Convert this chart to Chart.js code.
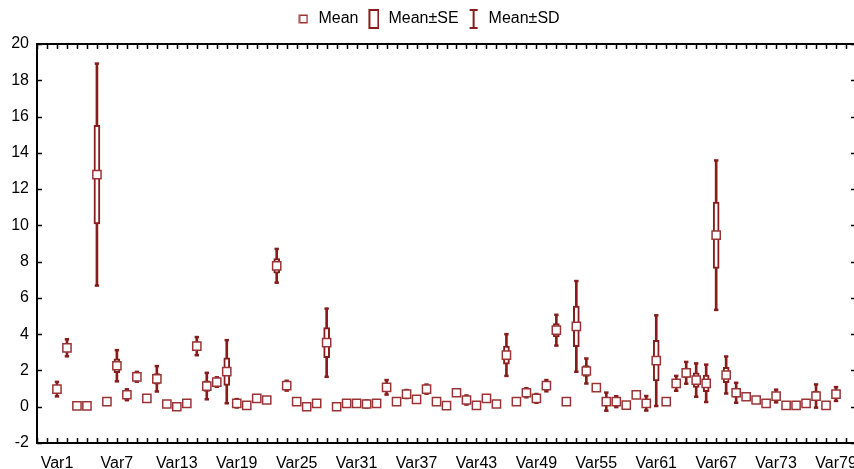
<!DOCTYPE html>
<html>
<head>
<meta charset="utf-8">
<script src="https://cdn.jsdelivr.net/npm/chart.js@4.4.1/dist/chart.umd.min.js"></script>
<style>
html,body{margin:0;padding:0;background:#fff;overflow:hidden;width:854px;height:469px}
#wrap{position:relative;width:856px;height:469px}
canvas{display:block}
</style>
</head>
<body>
<div id="wrap"><canvas id="c" width="856" height="469"></canvas></div>
<script>
// ---- data ----
const categories = [
 "Var1","Var2","Var3","Var4","Var5","Var6","Var7","Var8","Var9","Var10",
 "Var11","Var12","Var13","Var14","Var15","Var16","Var17","Var18","Var19","Var20",
 "Var21","Var22","Var23","Var24","Var25","Var26","Var27","Var28","Var29","Var30",
 "Var31","Var32","Var33","Var34","Var35","Var36","Var37","Var38","Var39","Var40",
 "Var41","Var42","Var43","Var44","Var45","Var46","Var47","Var48","Var49","Var50",
 "Var51","Var52","Var53","Var54","Var55","Var56","Var57","Var58","Var59","Var60",
 "Var61","Var62","Var63","Var64","Var65","Var66","Var67","Var68","Var69","Var70",
 "Var71","Var72","Var73","Var74","Var75","Var76","Var77","Var78","Var79"
];
const means = [
 0.97, 3.25, 0.05, 0.05, 12.8, 0.28, 2.26, 0.66, 1.65, 0.46,
 1.54, 0.15, 0.00, 0.19, 3.34, 1.14, 1.36, 1.93, 0.19, 0.08,
 0.46, 0.37, 7.77, 1.16, 0.28, 0.00, 0.19, 3.53, 0.00, 0.19,
 0.19, 0.15, 0.19, 1.07, 0.28, 0.70, 0.41, 0.97, 0.28, 0.06,
 0.77, 0.37, 0.08, 0.46, 0.15, 2.85, 0.28, 0.77, 0.46, 1.16,
 4.22, 0.28, 4.43, 1.97, 1.05, 0.28, 0.28, 0.09, 0.65, 0.19,
 2.54, 0.28, 1.29, 1.87, 1.47, 1.29, 9.46, 1.75, 0.77, 0.55,
 0.37, 0.19, 0.59, 0.08, 0.08, 0.19, 0.59, 0.08, 0.70
];
const seValues = [
 0.18, 0.21, 0, 0, 2.72, 0, 0.38, 0.13, 0.12, 0,
 0.29, 0, 0, 0, 0.22, 0.29, 0.12, 0.76, 0.10, 0,
 0, 0, 0.40, 0.12, 0, 0, 0, 0.83, 0, 0,
 0, 0.09, 0, 0.18, 0, 0.10, 0, 0.11, 0.05, 0,
 0, 0.11, 0, 0, 0, 0.50, 0, 0.11, 0.11, 0.14,
 0.37, 0, 1.12, 0.30, 0, 0.22, 0.13, 0, 0, 0.18,
 1.12, 0, 0.18, 0.26, 0.40, 0.46, 1.83, 0.42, 0.24, 0.04,
 0, 0, 0.16, 0, 0, 0, 0.27, 0, 0.17
];
const sdValues = [
 0.40, 0.47, 0, 0, 6.12, 0, 0.86, 0.30, 0.27, 0,
 0.70, 0, 0, 0, 0.50, 0.73, 0.26, 1.74, 0.23, 0,
 0, 0, 0.93, 0.27, 0, 0, 0, 1.88, 0, 0,
 0, 0.20, 0, 0.40, 0, 0.22, 0, 0.25, 0.12, 0,
 0, 0.25, 0, 0, 0, 1.15, 0, 0.25, 0.24, 0.31,
 0.85, 0, 2.50, 0.69, 0, 0.50, 0.30, 0, 0, 0.40,
 2.50, 0, 0.41, 0.60, 0.92, 1.03, 4.12, 1.02, 0.55, 0.10,
 0, 0, 0.35, 0, 0, 0, 0.64, 0, 0.38
];
const yTicks = [-2, 0, 2, 4, 6, 8, 10, 12, 14, 16, 18, 20];
const xLabelStep = 6;
const legendTexts = ["Mean", "Mean\u00b1SE", "Mean\u00b1SD"];

// ---- styles ----
const DARK = '#861c1c';
const MEANB = '#9a3434';
const FONT = "'Liberation Sans', Arial, sans-serif";
Chart.defaults.font.family = FONT;
Chart.defaults.font.size = 16;
Chart.defaults.color = '#000';

// ---- derived datasets ----
const meanPts = means.map((m, i) => ({x: i + 1, y: m}));
const sePts = [], sdPts = [], capPts = [];
means.forEach((m, i) => {
  if (seValues[i] > 0) sePts.push({x: i + 1, y: [m - seValues[i], m + seValues[i]]});
  if (sdValues[i] > 0) {
    sdPts.push({x: i + 1, y: [m - sdValues[i], m + sdValues[i]]});
    capPts.push({x: i + 1, y: m - sdValues[i]});
    capPts.push({x: i + 1, y: m + sdValues[i]});
  }
});

// ---- legend icons ----
function icon(w, h, draw) {
  const c = document.createElement('canvas');
  c.width = w; c.height = h;
  draw(c.getContext('2d'));
  return c;
}
const iconMean = icon(10, 10, g => {
  g.fillStyle = '#fff'; g.strokeStyle = MEANB; g.lineWidth = 1.5;
  g.fillRect(1, 1, 8, 8); g.strokeRect(1.25, 1.25, 7.5, 7.5);
});
const iconSE = icon(12, 20, g => {
  g.strokeStyle = DARK; g.lineWidth = 2;
  g.strokeRect(2, 1, 9, 18);
});
const iconSD = icon(12, 20, g => {
  g.strokeStyle = DARK; g.lineWidth = 2;
  g.beginPath();
  g.moveTo(6, 1); g.lineTo(6, 19);
  g.moveTo(2, 1); g.lineTo(10, 1);
  g.moveTo(2, 19); g.lineTo(10, 19);
  g.stroke();
});
const legendIcons = [iconMean, iconSE, iconSD];

// ---- frame + inward ticks ----
const framePlugin = {
  id: 'frame',
  afterDraw(chart) {
    const {ctx, chartArea: a, scales: {x, y}} = chart;
    ctx.save();
    ctx.strokeStyle = '#000';
    ctx.lineWidth = 1.5;
    ctx.beginPath();
    for (let v = Math.ceil(x.min); v <= x.max; v++) {
      const px = Math.round(x.getPixelForValue(v)) + 0.5;
      ctx.moveTo(px, a.bottom); ctx.lineTo(px, a.bottom - 5);
      ctx.moveTo(px, a.top); ctx.lineTo(px, a.top + 5);
    }
    yTicks.forEach(v => {
      const py = Math.round(y.getPixelForValue(v)) + 0.5;
      ctx.moveTo(a.left, py); ctx.lineTo(a.left + 5, py);
      ctx.moveTo(a.right, py); ctx.lineTo(a.right - 5, py);
    });
    ctx.stroke();
    ctx.lineWidth = 2;
    ctx.strokeRect(a.left, a.top, a.right - a.left, a.bottom - a.top);
    ctx.restore();
  }
};

new Chart(document.getElementById('c'), {
  data: {
    datasets: [
      {type: 'scatter', label: 'Mean', data: meanPts, order: 0,
       pointStyle: 'rect', radius: 5.8, borderWidth: 1.5,
       borderColor: MEANB, backgroundColor: '#fff', showLine: false},
      {type: 'bar', label: 'Mean\u00b1SE', data: sePts, order: 1,
       barThickness: 6, grouped: false, borderSkipped: false,
       borderWidth: 2, borderColor: DARK, backgroundColor: '#fff'},
      {type: 'scatter', label: 'caps', data: capPts, order: 2,
       pointStyle: 'line', radius: 2.2, borderWidth: 2.5,
       borderColor: DARK, backgroundColor: DARK, showLine: false},
      {type: 'bar', label: 'Mean\u00b1SD', data: sdPts, order: 3,
       barThickness: 2, grouped: false, borderSkipped: false,
       borderWidth: 0, backgroundColor: DARK}
    ]
  },
  options: {
    responsive: false,
    devicePixelRatio: 1,
    animation: false,
    events: [],
    layout: {autoPadding: false, padding: {top: 3, left: 0, right: 0, bottom: 0}},
    plugins: {
      tooltip: {enabled: false},
      title: {display: true, text: '', weight: 500, position: 'top',
              padding: 0, font: {size: 5, lineHeight: 1.4}},
      legend: {
        display: true,
        position: 'top',
        align: 'center',
        labels: {
          usePointStyle: true,
          boxWidth: 14,
          padding: 8,
          font: {size: 16, family: FONT},
          color: '#000',
          generateLabels: () => legendTexts.map((t, i) => ({
            text: t, pointStyle: legendIcons[i], datasetIndex: i,
            hidden: false, lineWidth: 0, strokeStyle: 'rgba(0,0,0,0)', fillStyle: 'rgba(0,0,0,0)'
          }))
        }
      }
    },
    scales: {
      x: {
        type: 'linear', position: 'bottom', min: -1, max: 81, offset: false,
        grid: {display: false, drawTicks: false},
        border: {display: false},
        ticks: {
          stepSize: 1, autoSkip: false, maxRotation: 0, minRotation: 0,
          padding: 11, font: {size: 16, family: FONT}, color: '#000',
          callback: v => (Number.isInteger(v) && v >= 1 && v <= categories.length && (v - 1) % xLabelStep === 0) ? categories[v - 1] : ''
        },
        afterFit: s => { s.height = 26; s.paddingLeft = 0; s.paddingRight = 0; }
      },
      y: {
        type: 'linear', min: -2, max: 20,
        grid: {display: false, drawTicks: false},
        border: {display: false},
        ticks: {stepSize: 2, padding: 8, font: {size: 16, family: FONT}, color: '#000'},
        afterFit: s => { s.width = 37; s.paddingTop = 0; s.paddingBottom = 0; }
      }
    }
  },
  plugins: [framePlugin]
});
</script>
</body>
</html>
